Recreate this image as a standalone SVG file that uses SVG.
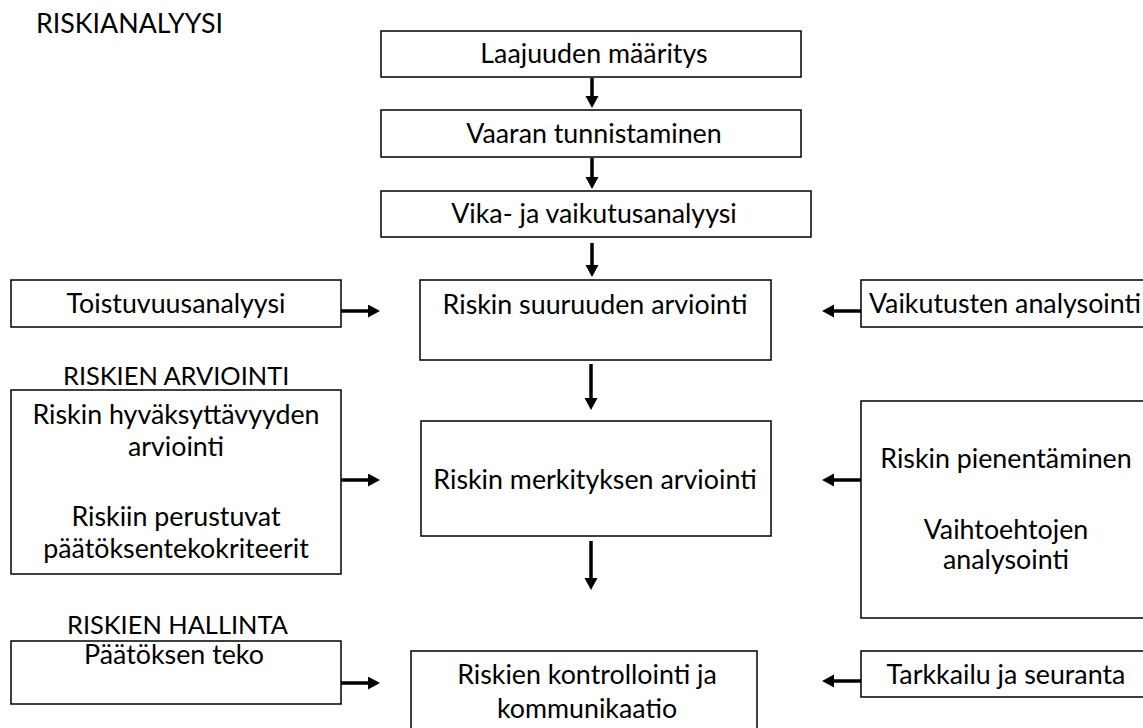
<svg xmlns="http://www.w3.org/2000/svg" width="1143" height="728" viewBox="0 0 1143 728">
<defs>
<style>
.box{fill:#fff;stroke:#000;stroke-width:1.5}
text{font-family:Lato,"Liberation Sans",sans-serif;font-size:26.8px;fill:#000}
.c{text-anchor:middle}
.h{font-size:25.4px}
.ar{stroke:#000;stroke-width:3.5;fill:none;marker-end:url(#ah)}
</style>
<marker id="ah" markerUnits="userSpaceOnUse" markerWidth="14" markerHeight="14" refX="2" refY="6.5" orient="auto">
<path d="M0,0 L12,6.5 L0,13 z" fill="#000"/>
</marker>
</defs>
<text id="lbl1" x="36" y="33">RISKIANALYYSI</text>
<text id="lbl2" class="h" x="63" y="385">RISKIEN ARVIOINTI</text>
<text id="lbl3" class="h" x="67" y="634">RISKIEN HALLINTA</text>

<g id="n1"><rect class="box" x="381" y="31" width="420" height="46"/><text class="c" x="594" y="63">Laajuuden määritys</text></g>
<g id="n2"><rect class="box" x="381" y="110" width="420" height="47"/><text class="c" x="594" y="143">Vaaran tunnistaminen</text></g>
<g id="n3"><rect class="box" x="381" y="191" width="430" height="46"/><text class="c" x="594" y="223">Vika- ja vaikutusanalyysi</text></g>
<g id="n4"><rect class="box" x="420" y="280" width="351" height="80"/><text class="c" x="595" y="314">Riskin suuruuden arviointi</text></g>
<g id="n5"><rect class="box" x="11" y="280" width="330" height="47"/><text class="c" x="176" y="313">Toistuvuusanalyysi</text></g>
<g id="n6"><rect class="box" x="861" y="280" width="300" height="47"/><text class="c" x="1005" y="313">Vaikutusten analysointi</text></g>
<g id="n7"><rect class="box" x="11" y="390" width="330" height="184"/>
<text class="c" x="176" y="424">Riskin hyväksyttävyyden</text>
<text class="c" x="176" y="456">arviointi</text>
<text class="c" x="176" y="526">Riskiin perustuvat</text>
<text class="c" x="176" y="558">päätöksentekokriteerit</text></g>
<g id="n8"><rect class="box" x="421" y="421" width="350" height="115"/><text class="c" x="595" y="489">Riskin merkityksen arviointi</text></g>
<g id="n9"><rect class="box" x="861" y="401" width="300" height="217"/>
<text class="c" x="1006" y="468">Riskin pienentäminen</text>
<text class="c" x="1006" y="539">Vaihtoehtojen</text>
<text class="c" x="1006" y="569">analysointi</text></g>
<g id="n10"><rect class="box" x="11" y="641" width="330" height="63"/><text class="c" x="174" y="664">Päätöksen teko</text></g>
<g id="n11"><rect class="box" x="411" y="651" width="346" height="90"/>
<text class="c" x="587" y="684">Riskien kontrollointi ja</text>
<text class="c" x="587" y="718">kommunikaatio</text></g>
<g id="n12"><rect class="box" x="861" y="651" width="300" height="46"/><text class="c" x="1006" y="684">Tarkkailu ja seuranta</text></g>

<g id="connectors">
<line class="ar" x1="592" y1="78" x2="592" y2="98"/>
<line class="ar" x1="592" y1="158" x2="592" y2="179"/>
<line class="ar" x1="592" y1="243" x2="592" y2="267"/>
<line class="ar" x1="591" y1="364" x2="591" y2="400"/>
<line class="ar" x1="591" y1="541" x2="591" y2="580"/>
<line class="ar" x1="341" y1="311" x2="370" y2="311"/>
<line class="ar" x1="861" y1="311" x2="832" y2="311"/>
<line class="ar" x1="341" y1="480" x2="370" y2="480"/>
<line class="ar" x1="861" y1="480" x2="832" y2="480"/>
<line class="ar" x1="341" y1="683" x2="370" y2="683"/>
<line class="ar" x1="861" y1="681" x2="832" y2="681"/>
</g>
</svg>
